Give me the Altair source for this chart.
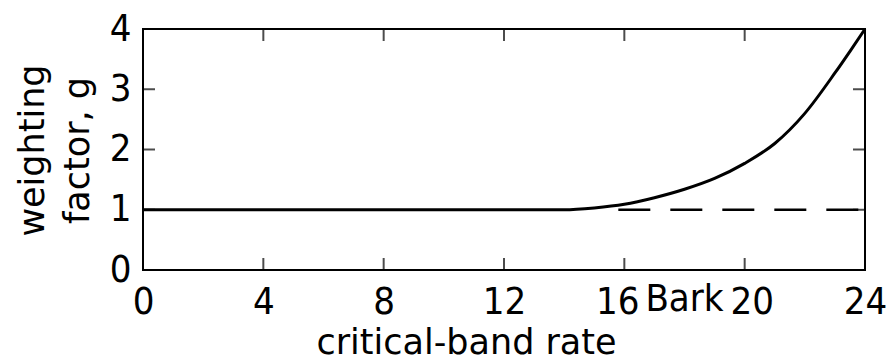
import altair as alt
import pandas as pd

# critical-band rate z (Bark) and weighting factor g
z_vals = [0, 14, 15, 16, 17, 18, 19, 20, 21, 22, 23, 23.5, 24]
g_vals = [1.0, 1.0, 1.03, 1.09, 1.20, 1.34, 1.52, 1.77, 2.10, 2.60, 3.27, 3.63, 4.0]

# reference line g = 1 (dashed) beyond 16 Bark
dash_z = [15.8, 24]
dash_g = [1.0, 1.0]

x_tick_vals = [0, 4, 8, 12, 16, 20, 24]
y_tick_vals = [0, 1, 2, 3, 4]
x_inner_ticks = [4, 8, 12, 16, 20]
y_inner_ticks = [1, 2, 3]

unit_label = "Bark"
unit_pos = 18
x_title = "critical-band rate"
y_title = ["weighting", "factor, g"]

LABEL_FONT = "DejaVu Sans Condensed"
TITLE_FONT = "DejaVu Sans"

curve_df = pd.DataFrame({"z": z_vals, "g": g_vals})
dash_df = pd.DataFrame({"z": dash_z, "g": dash_g})
xt_df = pd.DataFrame({"z": x_inner_ticks})
yt_df = pd.DataFrame({"g": y_inner_ticks})
unit_df = pd.DataFrame({"z": [unit_pos], "t": [unit_label]})

xscale = alt.Scale(domain=[0, 24], nice=False, zero=False)
yscale = alt.Scale(domain=[0, 4], nice=False, zero=False)

x_axis = alt.Axis(
    values=x_tick_vals, title=x_title, ticks=False, tickSize=0, domain=False,
    grid=False, labelPadding=13, labelFont=LABEL_FONT, labelFontSize=38,
    labelColor="black", labelAngle=0, format="d",
    labelOffset={"condition": [{"test": "datum.value == 16", "value": -7},
                               {"test": "datum.value == 20", "value": 7}],
                 "value": 0},
    titleFont=TITLE_FONT, titleFontSize=35, titleFontWeight="normal",
    titleColor="black", titleAlign="center", titleBaseline="alphabetic",
    titleX=323, titleY=83, labelFlush=False,
)
y_axis = alt.Axis(
    values=y_tick_vals, title=y_title, ticks=False, tickSize=0, domain=False,
    grid=False, labelPadding=12, labelFont=LABEL_FONT, labelFontSize=38,
    labelColor="black", labelFlush=False, format="d",
    titleFont=TITLE_FONT, titleFontSize=35, titleFontWeight="normal",
    titleColor="black", titleAngle=-90, titleAlign="center",
    titleBaseline="middle", titleX=-111, titleY=121, titleLineHeight=45,
)

curve = alt.Chart(curve_df).mark_line(
    color="black", strokeWidth=3, interpolate="monotone"
).encode(
    x=alt.X("z:Q", scale=xscale, axis=x_axis),
    y=alt.Y("g:Q", scale=yscale, axis=y_axis),
)

dashed = alt.Chart(dash_df).mark_line(
    color="black", strokeWidth=2.5, strokeDash=[32, 20]
).encode(x="z:Q", y="g:Q")

tick_bottom = alt.Chart(xt_df).mark_tick(
    color="black", thickness=2, size=24, orient="vertical", clip=True
).encode(x="z:Q", y=alt.datum(0))
tick_top = alt.Chart(xt_df).mark_tick(
    color="black", thickness=2, size=24, orient="vertical", clip=True
).encode(x="z:Q", y=alt.datum(4))
tick_left = alt.Chart(yt_df).mark_tick(
    color="black", thickness=2, size=24, orient="horizontal", clip=True
).encode(y="g:Q", x=alt.datum(0))
tick_right = alt.Chart(yt_df).mark_tick(
    color="black", thickness=2, size=24, orient="horizontal", clip=True
).encode(y="g:Q", x=alt.datum(24))

unit = alt.Chart(unit_df).mark_text(
    font=LABEL_FONT, fontSize=38, color="black", baseline="middle",
    align="center"
).encode(x="z:Q", y=alt.datum(-0.5), text="t:N")

chart = alt.layer(
    curve, dashed, tick_bottom, tick_top, tick_left, tick_right, unit
).properties(
    width=722, height=241,
    padding={"left": 143, "top": 29, "right": 21, "bottom": 93},
    autosize=alt.AutoSizeParams(type="none"),
    background="white",
).configure_view(stroke="black", strokeWidth=2)

chart.save("out.html", embed_options={"renderer": "svg", "actions": False})
